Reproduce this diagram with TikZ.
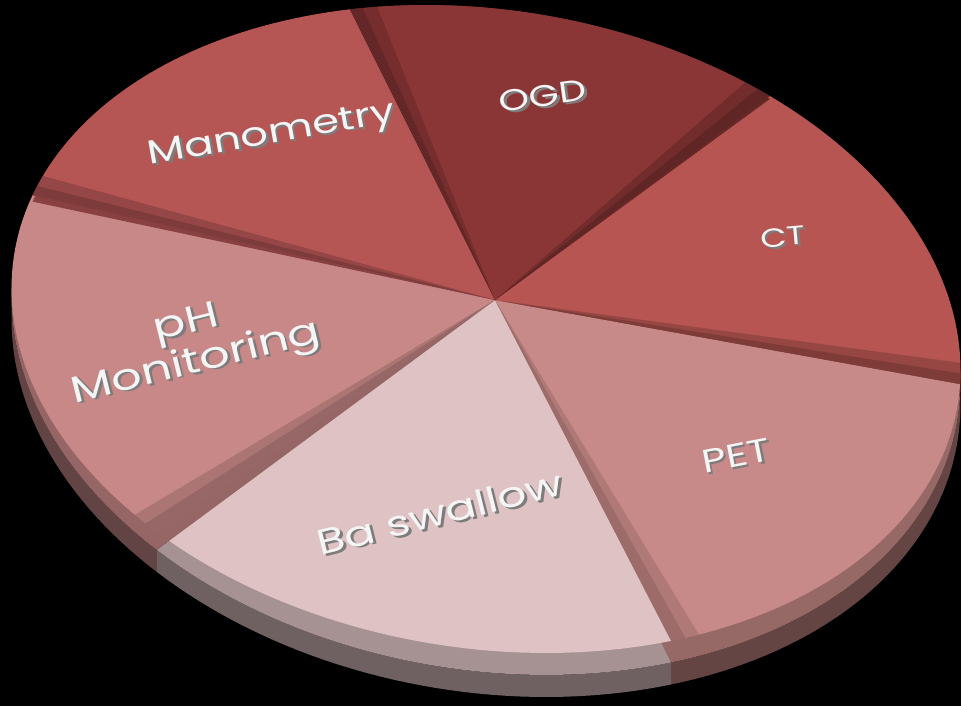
\documentclass[tikz,border=0pt]{standalone}
\usepackage{fontspec}
\newfontfamily\labelfont[FakeStretch=1.3]{Poppins}

\definecolor{manored}{HTML}{B55655}
\definecolor{ogdred}{HTML}{8B3636}
\definecolor{ctred}{HTML}{B65552}
\definecolor{petpink}{HTML}{C88A88}
\definecolor{bapink}{HTML}{DFC3C4}
\definecolor{phpink}{HTML}{C78887}
\definecolor{embgrey}{HTML}{7C7C7C}

\tikzset{
  declare function={
    rimx(\t)=486+470.7*cos(\t)+60*sin(\t);
    rimy(\t)=340+335*sin(\t);
    facey(\t)=340+335*sin(\t)-11*(1+sin(\t));
  },
  pielabel/.style={text=white!96!black, inner sep=0pt, align=center,
    font=\labelfont\fontsize{#1}{23}\selectfont}
}
\newcommand{\emb}[1]{\makebox[0pt][l]{\hspace{1.3pt}\raisebox{-1.3pt}{\textcolor{embgrey}{#1}}}#1}
\newcommand{\pieside}[3]{
    \fill[#3!50!black] plot[domain=#1:#2,samples=40] ({rimx(\x)},{rimy(\x)})
        -- plot[domain=#1:#2,samples=40] ({rimx(#1+#2-\x)},{rimy(#1+#2-\x)+22}) -- cycle;
}
\newcommand{\pieface}[3]{
    \fill[#3!75!black] (ctr) -- plot[domain=#1:#2,samples=40] ({rimx(\x)},{rimy(\x)}) -- cycle;
    \fill[#3] (ctr) -- plot[domain=#1:#2,samples=40] ({rimx(\x)},{facey(\x)}) -- cycle;
}
\newcommand{\seam}[5]{
    \fill[#5, opacity=0.35] (ctr) -- plot[domain=#1:#2,samples=8] ({rimx(\x)},{facey(\x)}) -- cycle;
    \fill[#5, opacity=0.4] (ctr) -- plot[domain=#3:#4,samples=8] ({rimx(\x)},{facey(\x)}) -- cycle;
}

\begin{document}
\begin{tikzpicture}[x=0.02cm, y=-0.02cm]
        \fill[black] (0,0) rectangle (961,706);
        \useasboundingbox (0,0) rectangle (961,706);
        \coordinate (ctr) at (495,300);

        \pieside{314}{369.8}{ctred}
        \pieside{9.8}{74.3}{petpink}
        \pieside{74.3}{141.2}{bapink}
        \pieside{141.2}{204.4}{phpink}

        \pieface{314}{369.8}{ctred}
        \pieface{9.8}{74.3}{petpink}
        \pieface{74.3}{141.2}{bapink}
        \pieface{141.2}{204.4}{phpink}
        \pieface{204.4}{260.6}{manored}
        \pieface{260.6}{314}{ogdred}

        % soft shadow bands along the cuts
        \seam{204.4}{208.2}{204.4}{206.2}{manored!50!black}
        \seam{260.6}{264}{260.6}{262.2}{ogdred!55!black}
        \seam{310.4}{314}{312.2}{314}{ogdred!50!black}
        \seam{6}{9.8}{7.9}{9.8}{ctred!50!black}
        \seam{70.6}{74.3}{72.4}{74.3}{petpink!65!black}
        \seam{141.2}{145}{141.2}{143.1}{phpink!60!black}

        \node[pielabel=19, rotate=10] (mano) at (272,137) {\emb{Manometry}};
        \node[pielabel=17, rotate=8] (ogd) at (543,97) {\emb{OGD}};
        \node[pielabel=15, rotate=5] (ct) at (783,238) {\emb{CT}};
        \node[pielabel=18.5, rotate=11] (pet) at (736,457) {\emb{PET}};
        \node[pielabel=20, rotate=14] (ba) at (440,514) {\emb{Ba swallow}};
        \node[pielabel=21, rotate=14] (ph) at (192,346) {\emb{pH}\\\emb{Monitoring}};
\end{tikzpicture}
\end{document}
